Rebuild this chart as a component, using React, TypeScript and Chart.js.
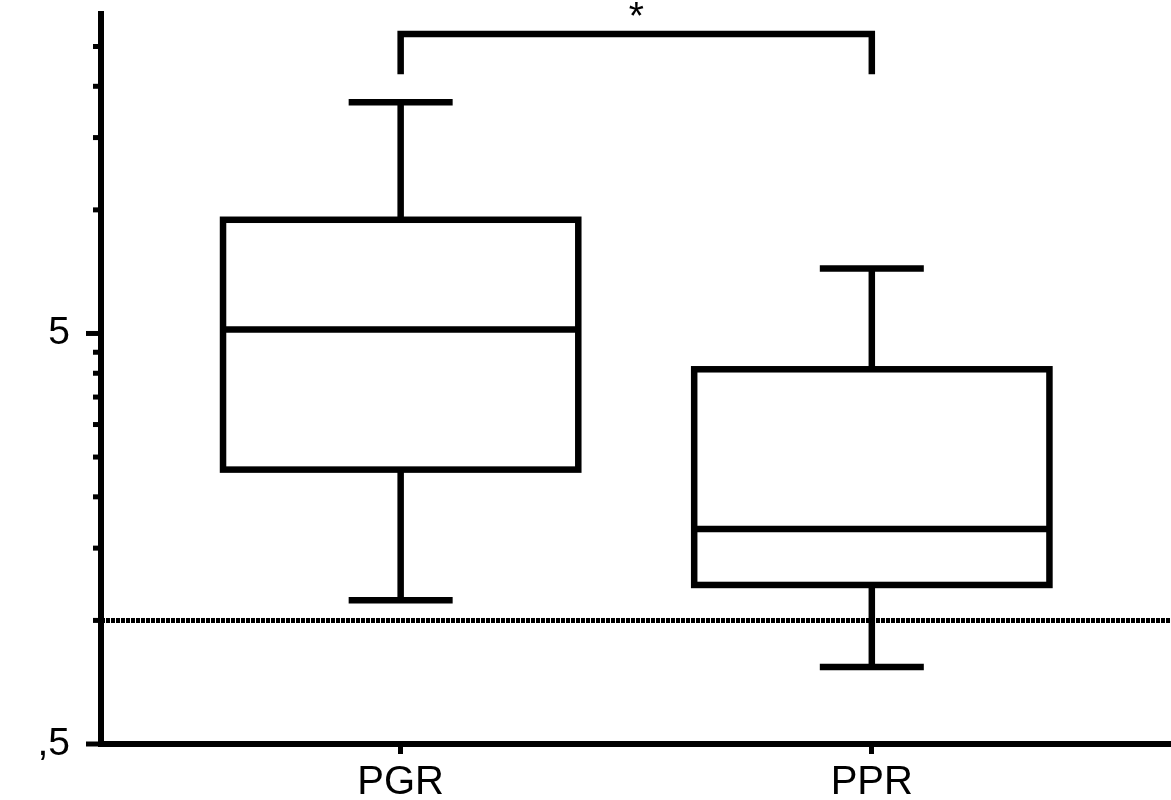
import { useEffect, useRef } from "react";
import { Chart, registerables, type Plugin } from "chart.js";

Chart.register(...registerables);

// groups on the x axis and their box-plot summaries (log y axis)
const groups = ["PGR", "PPR"];
const whiskerHigh = [18.3, 7.2];
const upperQuartile = [9.46, 4.09];
const medians = [5.11, 1.67];
const lowerQuartile = [2.33, 1.22];
const whiskerLow = [1.12, 0.77];

// dotted reference level
const referenceLevel = 1;

// y axis ticks; only two of them carry a label
const yTicks = [0.5, 1, 1.5, 2, 2.5, 3, 3.5, 4, 4.5, 5, 10, 15, 20, 25];
const yTickLabels: Record<string, string> = { "0.5": ",5", "5": "5" };
const yMin = 0.5;
const yMax = 30;

// x range around the two groups (group n sits at x = n)
const xMin = 0.364;
const xMax = 2.635;

// significance bracket between the two groups
const comparison = [1, 2];
const bracketTop = 26.8;
const bracketLegEnd = 21.4;
const bracketLabel = "*";

const FONT = "'Liberation Sans', Arial, Helvetica, sans-serif";

const boxPlotPlugin: Plugin<"line"> = {
  id: "boxPlot",
  afterDatasetsDraw(chart) {
    const { ctx, chartArea } = chart;
    const x = chart.scales.x;
    const y = chart.scales.y;
    const unit = x.getPixelForValue(2) - x.getPixelForValue(1);
    const half = unit * 0.377;
    const capHalf = 52;

    const line = (x1: number, y1: number, x2: number, y2: number) => {
      ctx.beginPath();
      ctx.moveTo(x1, y1);
      ctx.lineTo(x2, y2);
      ctx.stroke();
    };

    ctx.save();
    ctx.strokeStyle = "#000";
    ctx.lineWidth = 6.5;
    ctx.lineCap = "butt";
    ctx.lineJoin = "miter";

    groups.forEach((_, i) => {
      const cx = x.getPixelForValue(i + 1);
      const hi = y.getPixelForValue(whiskerHigh[i]);
      const q3 = y.getPixelForValue(upperQuartile[i]);
      const med = y.getPixelForValue(medians[i]);
      const q1 = y.getPixelForValue(lowerQuartile[i]);
      const lo = y.getPixelForValue(whiskerLow[i]);

      line(cx, q3, cx, hi);
      line(cx, q1, cx, lo);
      line(cx - capHalf, hi, cx + capHalf, hi);
      line(cx - capHalf, lo, cx + capHalf, lo);

      ctx.fillStyle = "#fff";
      ctx.fillRect(cx - half, q3, half * 2, q1 - q3);
      ctx.strokeRect(cx - half, q3, half * 2, q1 - q3);
      line(cx - half, med, cx + half, med);
    });

    // y tick marks: long for labelled ticks, short for the rest
    ctx.lineWidth = 5;
    const axisX = chartArea.left;
    y.ticks.forEach((t) => {
      const py = y.getPixelForValue(t.value);
      const len = yTickLabels[String(t.value)] ? 15 : 8;
      line(axisX - len, py, axisX, py);
    });

    // bracket
    ctx.lineWidth = 6.5;
    const bx1 = x.getPixelForValue(comparison[0]);
    const bx2 = x.getPixelForValue(comparison[1]);
    const by = y.getPixelForValue(bracketTop);
    const byEnd = y.getPixelForValue(bracketLegEnd);
    ctx.beginPath();
    ctx.moveTo(bx1, byEnd);
    ctx.lineTo(bx1, by);
    ctx.lineTo(bx2, by);
    ctx.lineTo(bx2, byEnd);
    ctx.stroke();

    ctx.fillStyle = "#000";
    ctx.font = `39px ${FONT}`;
    ctx.textAlign = "center";
    ctx.textBaseline = "alphabetic";
    ctx.fillText(bracketLabel, (bx1 + bx2) / 2, by - 5);
    ctx.restore();
  },
};

export default function App() {
  const canvasRef = useRef<HTMLCanvasElement>(null);
  const chartRef = useRef<Chart | null>(null);

  useEffect(() => {
    if (!canvasRef.current) return;
    chartRef.current?.destroy();

    chartRef.current = new Chart(canvasRef.current, {
      type: "line",
      data: {
        datasets: [
          {
            label: "reference",
            data: [
              { x: xMin, y: referenceLevel },
              { x: xMax, y: referenceLevel },
            ],
            borderColor: "#000",
            borderWidth: 5,
            borderDash: [4, 1],
            pointRadius: 0,
            fill: false,
          },
        ],
      },
      options: {
        animation: false,
        responsive: true,
        maintainAspectRatio: false,
        layout: { padding: { top: 14, left: 0, right: 0, bottom: 0 } },
        plugins: { legend: { display: false }, tooltip: { enabled: false } },
        scales: {
          x: {
            type: "linear",
            position: "bottom",
            min: xMin,
            max: xMax,
            offset: false,
            border: { display: true, width: 6, color: "#000" },
            grid: {
              display: true,
              drawOnChartArea: false,
              drawTicks: true,
              tickLength: 10,
              tickWidth: 5,
              tickColor: "#000",
              color: "#000",
            },
            afterBuildTicks: (scale) => {
              scale.ticks = groups.map((_, i) => ({ value: i + 1 }));
            },
            afterFit: (scale) => {
              scale.height = 56;
              scale.paddingLeft = 0;
              scale.paddingRight = 0;
            },
            ticks: {
              autoSkip: false,
              maxRotation: 0,
              padding: 5,
              color: "#000",
              font: { size: 40, family: FONT },
              callback: (v) => groups[Number(v) - 1] ?? "",
            },
          },
          y: {
            type: "logarithmic",
            min: yMin,
            max: yMax,
            border: { display: true, width: 6, color: "#000" },
            grid: { display: false, drawTicks: false },
            afterBuildTicks: (scale) => {
              scale.ticks = yTicks.map((v) => ({ value: v }));
            },
            afterFit: (scale) => {
              scale.width = 101;
              scale.paddingTop = 0;
              scale.paddingBottom = 0;
            },
            ticks: {
              autoSkip: false,
              padding: 31,
              color: "#000",
              font: { size: 39, family: FONT },
              callback: (v) => yTickLabels[String(v)] ?? "",
            },
          },
        },
      },
      plugins: [boxPlotPlugin],
    });

    return () => {
      chartRef.current?.destroy();
      chartRef.current = null;
    };
  }, []);

  return (
    <div
      style={{
        position: "absolute",
        left: 0,
        top: 0,
        width: 1171,
        height: 800,
        background: "#fff",
      }}
    >
      <canvas ref={canvasRef} />
    </div>
  );
}
